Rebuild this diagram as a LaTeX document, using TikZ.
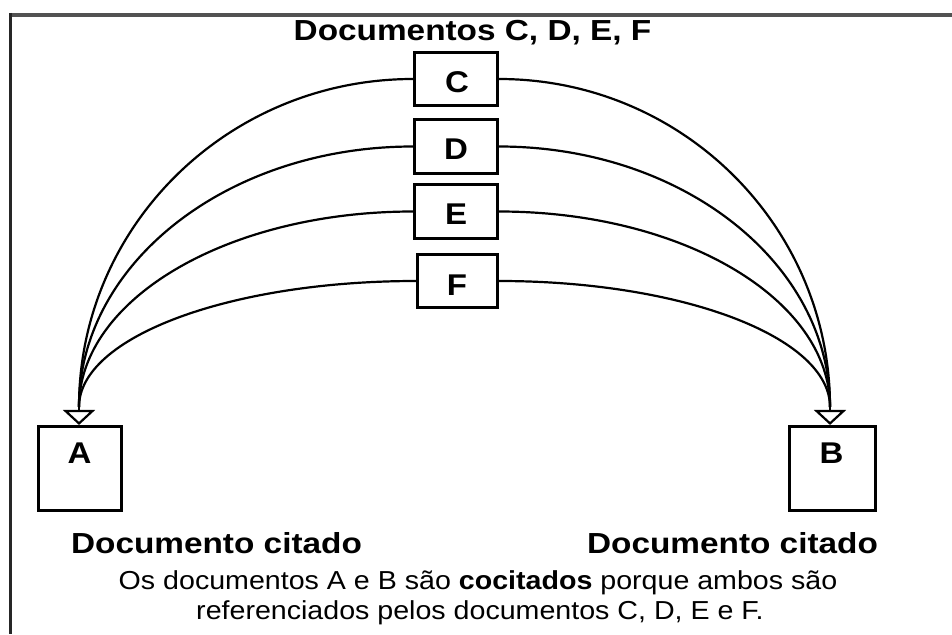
\documentclass[tikz,border=0pt]{standalone}
\usepackage{fontspec}
\setmainfont{Liberation Sans}
\usetikzlibrary{arrows.meta}
\newcommand{\hstr}[2][1.15]{\scalebox{#1}[1]{#2}}
\begin{document}
\begin{tikzpicture}[x=1pt,y=-1pt,
  docbox/.style={draw=black, line width=2.6pt, fill=white, inner sep=0pt},
  arcline/.style={line width=2.2pt, black},
  tipline/.style={line width=2.2pt, black, -{Triangle[open,length=15pt,width=32pt]}},
  boldtxt/.style={font=\fontsize{29}{34}\selectfont\bfseries, inner sep=0pt, anchor=base},
  lettxt/.style={font=\fontsize{30}{34}\selectfont\bfseries, inner sep=0pt, anchor=base},
  regtxt/.style={font=\fontsize{26}{31}\selectfont, inner sep=0pt, anchor=base},
]
\useasboundingbox (0,0) rectangle (952,634);
\fill[white] (0,0) rectangle (952,634);
% frame
\draw[line width=4pt, color=black!68] (9,15) -- (952,15);
\draw[line width=3pt, color=black!85] (10.5,13) -- (10.5,634);

% tips
\coordinate (ta) at (79,407);
\coordinate (tb) at (830,407);

% boxes (nodes first for anchors)
\path
  node[docbox, minimum width=83.5pt, minimum height=53.5pt] (C) at (456,79) {}
  node[docbox, minimum width=83.5pt, minimum height=54.5pt] (D) at (456,146.5) {}
  node[docbox, minimum width=83.5pt, minimum height=54.5pt] (E) at (456,211.5) {}
  node[docbox, minimum width=80.5pt, minimum height=53.5pt] (F) at (457.5,281) {}
  node[docbox, minimum width=83.5pt, minimum height=84.5pt] (A) at (80,468.5) {}
  node[docbox, minimum width=86.5pt, minimum height=84.5pt] (B) at (832.5,468.5) {};

% arcs left
\draw[arcline] (C.west) .. controls +(-185,0) and +(0,-181) .. (ta);
\draw[arcline] (D.west) .. controls +(-185,0) and +(0,-144) .. (ta);
\draw[arcline] (E.west) .. controls +(-185,0) and +(0,-108) .. (ta);
\draw[arcline] (F.west) .. controls +(-186,0) and +(0,-70) .. (ta);
% arcs right
\draw[arcline] (C.east) .. controls +(183,0) and +(0,-181) .. (tb);
\draw[arcline] (D.east) .. controls +(183,0) and +(0,-144) .. (tb);
\draw[arcline] (E.east) .. controls +(183,0) and +(0,-108) .. (tb);
\draw[arcline] (F.east) .. controls +(183,0) and +(0,-70) .. (tb);
% arrow heads
\draw[tipline] (ta) -- (ta |- A.north);
\draw[tipline] (tb) -- (tb |- B.north);

% redraw boxes on top
\path
  node[docbox, minimum width=83.5pt, minimum height=53.5pt] at (C) {}
  node[docbox, minimum width=83.5pt, minimum height=54.5pt] at (D) {}
  node[docbox, minimum width=83.5pt, minimum height=54.5pt] at (E) {}
  node[docbox, minimum width=80.5pt, minimum height=53.5pt] at (F) {}
  node[docbox, minimum width=83.5pt, minimum height=84.5pt] at (A) {}
  node[docbox, minimum width=86.5pt, minimum height=84.5pt] at (B) {};

% letters
\node[lettxt] (Ct) at (457,92.5) {\hstr[1.1]{C}};
\node[lettxt] (Dt) at (456,159.5) {\hstr[1.1]{D}};
\node[lettxt] (Et) at (456,224.5) {\hstr[1.1]{E}};
\node[lettxt] (Ft) at (457,295.5) {\hstr[1.1]{F}};
\node[lettxt] (At) at (79.5,463.5) {\hstr[1.1]{A}};
\node[lettxt] (Bt) at (831.5,463.5) {\hstr[1.1]{B}};

% texts
\node[boldtxt] (title) at (472.5,41) {\hstr{Documentos C, D, E, F}};
\node[boldtxt] (lA) at (216.5,553.5) {\hstr{Documento citado}};
\node[boldtxt] (lB) at (732.5,553.5) {\hstr{Documento citado}};
\node[regtxt] (n1) at (478,589.5) {\hstr[1.1]{Os documentos A e B são \textbf{cocitados} porque ambos são}};
\node[regtxt] (n2) at (480,619.5) {\hstr[1.1]{referenciados pelos documentos C, D, E e F.}};
\end{tikzpicture}
\end{document}
